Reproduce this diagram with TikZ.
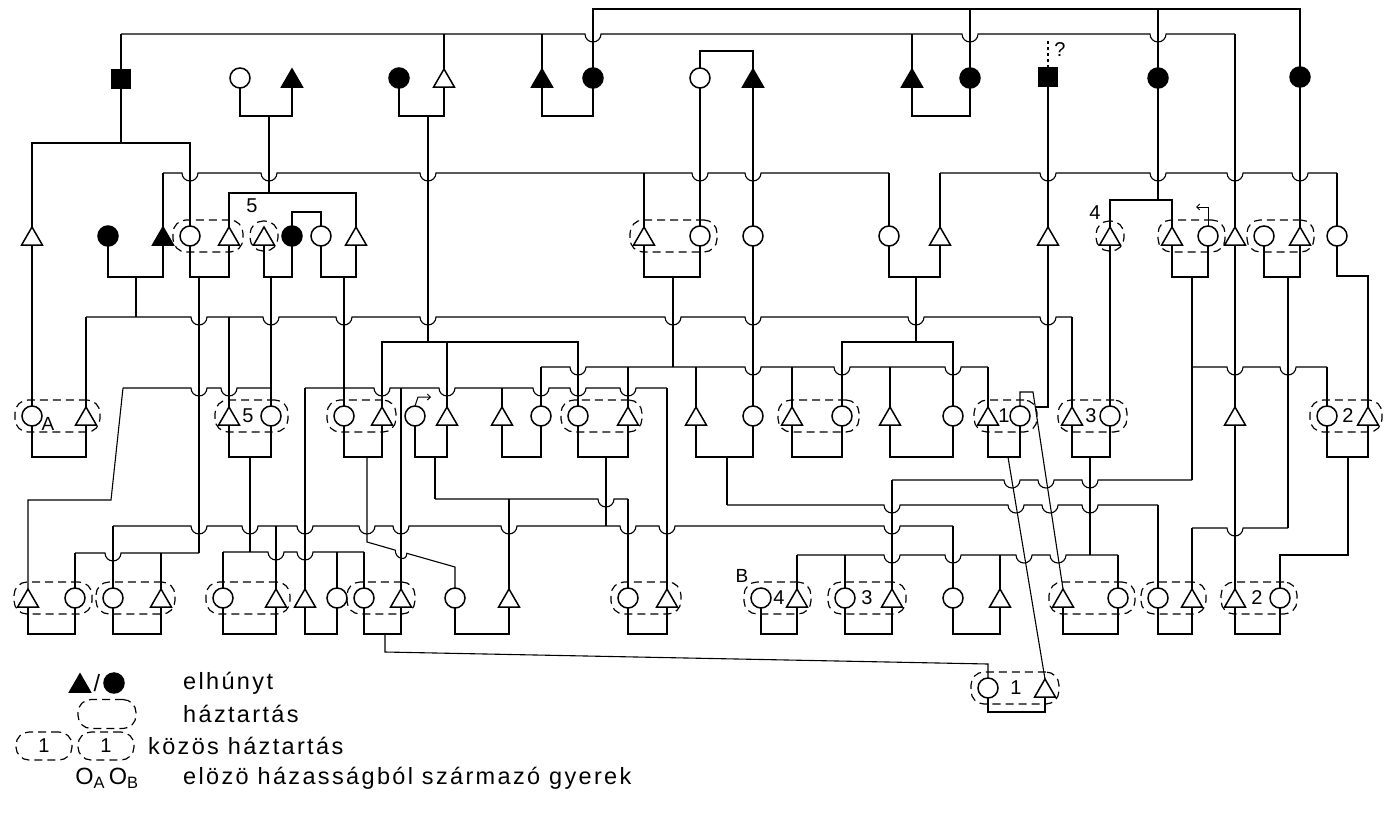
\documentclass[tikz,border=0pt]{standalone}
\usepackage{fontspec}
\setmainfont{Liberation Sans}[LetterSpace=10]
\usetikzlibrary{shapes.geometric,fit,arrows.meta}

\newcommand{\numfont}{\fontsize{20}{22}\selectfont}
\newcommand{\labfont}{\fontsize{19}{21}\selectfont}
\newcommand{\legfont}{\fontsize{23.5}{26}\selectfont}
\newcommand{\hopr}{8}
% horizontal line at y=#1 from x=#2 to x=#3, hopping under the verticals in #4
\newcommand{\busline}[4]{\draw[conn] (#2,#1) \foreach \h in {#4}{ -- ({\h-\hopr},#1) arc[start angle=180,end angle=0,radius=\hopr] } -- (#3,#1);}
\newcommand{\couple}[3]{\draw[conn] (#1.south) -- (#1.south |- 0,#3) -- (#2.south |- 0,#3) -- (#2.south);}
\newcommand{\sibs}[3]{\draw[conn] (#1.north) -- (#1.north |- 0,#3) -- (#2.north |- 0,#3) -- (#2.north);}
\newcommand{\upline}[2]{\draw[conn] (#1.north) -- (#1.north |- 0,#2);}

\begin{document}
\begin{tikzpicture}[x=1pt,y=-1pt,
  conn/.style={line width=1.1pt},
  sym/.style={draw, line width=1.5pt, inner sep=0pt, outer sep=0pt},
  ci/.style={sym, circle, minimum size=20pt},
  dci/.style={ci, fill=black},
  tr/.style={sym, regular polygon, regular polygon sides=3, minimum size=24pt, yshift=-3pt},
  dtr/.style={tr, fill=black},
  dsq/.style={sym, rectangle, fill=black, minimum size=19pt},
  hh/.style={draw, line width=1.2pt, dash pattern=on 8pt off 5pt, rounded corners=13pt, inner xsep=7pt, inner ysep=6pt},
  num/.style={font=\numfont, inner sep=0pt},
  lab/.style={font=\labfont, inner sep=0pt},
  txt/.style={font=\legfont, anchor=west, inner sep=0pt},
  arrowmark/.style={line width=1pt, -{Straight Barb[length=3pt,width=6pt]}},
]
\useasboundingbox (0,0) rectangle (1384,823);

% generation 1
\node[dsq] (g1x121) at (121,79) {};
\node[ci] (g1x240) at (240,78) {};
\node[dtr] (g1x292) at (292,78) {};
\node[dci] (g1x399) at (399,78) {};
\node[tr] (g1x444) at (444,78) {};
\node[dtr] (g1x542) at (542,78) {};
\node[dci] (g1x593) at (593,78) {};
\node[ci] (g1x700) at (700,78) {};
\node[dtr] (g1x753) at (753,78) {};
\node[dtr] (g1x912) at (912,78) {};
\node[dci] (g1x970) at (970,78) {};
\node[dsq] (g1x1048) at (1048,77) {};
\node[dci] (g1x1158) at (1158,78) {};
\node[dci] (g1x1300) at (1300,77) {};

% generation 2
\node[tr] (g2x32) at (32,236) {};
\node[dci] (g2x108) at (108,236) {};
\node[dtr] (g2x163) at (163,236) {};
\node[ci] (g2x190) at (190,236) {};
\node[tr] (g2x229) at (229,236) {};
\node[tr] (g2x264) at (264,236) {};
\node[dci] (g2x292) at (292,236) {};
\node[ci] (g2x321) at (321,236) {};
\node[tr] (g2x356) at (356,236) {};
\node[tr] (g2x644) at (644,236) {};
\node[ci] (g2x700) at (700,236) {};
\node[ci] (g2x753) at (753,236) {};
\node[ci] (g2x889) at (889,236) {};
\node[tr] (g2x940) at (940,236) {};
\node[tr] (g2x1048) at (1048,236) {};
\node[tr] (g2x1110) at (1110,236) {};
\node[tr] (g2x1172) at (1172,236) {};
\node[ci] (g2x1208) at (1208,236) {};
\node[tr] (g2x1235) at (1235,236) {};
\node[ci] (g2x1264) at (1264,236) {};
\node[tr] (g2x1300) at (1300,236) {};
\node[ci] (g2x1337) at (1337,236) {};

% generation 3
\node[ci] (g3x32) at (32,416) {};
\node[tr] (g3x86) at (86,416) {};
\node[tr] (g3x229) at (229,416) {};
\node[ci] (g3x271) at (271,416) {};
\node[ci] (g3x344) at (344,416) {};
\node[tr] (g3x382) at (382,416) {};
\node[ci] (g3x415) at (415,416) {};
\node[tr] (g3x447) at (447,416) {};
\node[tr] (g3x502) at (502,416) {};
\node[ci] (g3x541) at (541,416) {};
\node[ci] (g3x578) at (578,416) {};
\node[tr] (g3x628) at (628,416) {};
\node[tr] (g3x696) at (696,416) {};
\node[ci] (g3x753) at (753,416) {};
\node[tr] (g3x792) at (792,416) {};
\node[ci] (g3x842) at (842,416) {};
\node[tr] (g3x890) at (890,416) {};
\node[ci] (g3x953) at (953,416) {};
\node[tr] (g3x988) at (988,416) {};
\node[ci] (g3x1020) at (1020,416) {};
\node[tr] (g3x1072) at (1072,416) {};
\node[ci] (g3x1110) at (1110,416) {};
\node[tr] (g3x1235) at (1235,416) {};
\node[ci] (g3x1327) at (1327,416) {};
\node[tr] (g3x1368) at (1368,416) {};

% generation 4
\node[tr] (g4x28) at (28,598) {};
\node[ci] (g4x75) at (75,598) {};
\node[ci] (g4x113) at (113,598) {};
\node[tr] (g4x161) at (161,598) {};
\node[ci] (g4x223) at (223,598) {};
\node[tr] (g4x276) at (276,598) {};
\node[tr] (g4x305) at (305,598) {};
\node[ci] (g4x337) at (337,598) {};
\node[ci] (g4x364) at (364,598) {};
\node[tr] (g4x401) at (401,598) {};
\node[ci] (g4x455) at (455,598) {};
\node[tr] (g4x509) at (509,598) {};
\node[ci] (g4x628) at (628,598) {};
\node[tr] (g4x667) at (667,598) {};
\node[ci] (g4x761) at (761,598) {};
\node[tr] (g4x797) at (797,598) {};
\node[ci] (g4x845) at (845,598) {};
\node[tr] (g4x892) at (892,598) {};
\node[ci] (g4x953) at (953,598) {};
\node[tr] (g4x1000) at (1000,598) {};
\node[tr] (g4x1063) at (1063,598) {};
\node[ci] (g4x1118) at (1118,598) {};
\node[ci] (g4x1158) at (1158,598) {};
\node[tr] (g4x1192) at (1192,598) {};
\node[tr] (g4x1235) at (1235,598) {};
\node[ci] (g4x1280) at (1280,598) {};

% generation 5
\node[ci] (g5x988) at (988,688) {};
\node[tr] (g5x1045) at (1045,688) {};

% households
\node[hh, fit=(g2x190)(g2x229)] (hh2a) {};
\node[hh, fit=(g2x264)] (hh2b) {};
\node[hh, fit=(g2x644)(g2x700)] (hh2c) {};
\node[hh, fit=(g2x1110)] (hh2d) {};
\node[hh, fit=(g2x1172)(g2x1208)] (hh2e) {};
\node[hh, fit=(g2x1264)(g2x1300)] (hh2f) {};
\node[hh, fit=(g3x32)(g3x86)] (hh3a) {};
\node[hh, fit=(g3x229)(g3x271)] (hh3b) {};
\node[hh, fit=(g3x344)(g3x382)] (hh3c) {};
\node[hh, fit=(g3x578)(g3x628)] (hh3d) {};
\node[hh, fit=(g3x792)(g3x842)] (hh3e) {};
\node[hh, fit=(g3x988)(g3x1020)] (hh3f) {};
\node[hh, fit=(g3x1072)(g3x1110)] (hh3g) {};
\node[hh, fit=(g3x1327)(g3x1368)] (hh3h) {};
\node[hh, fit=(g4x28)(g4x75)] (hh4a) {};
\node[hh, fit=(g4x113)(g4x161)] (hh4b) {};
\node[hh, fit=(g4x223)(g4x276)] (hh4c) {};
\node[hh, fit=(g4x364)(g4x401)] (hh4d) {};
\node[hh, fit=(g4x628)(g4x667)] (hh4e) {};
\node[hh, fit=(g4x761)(g4x797)] (hh4f) {};
\node[hh, fit=(g4x845)(g4x892)] (hh4g) {};
\node[hh, fit=(g4x1063)(g4x1118)] (hh4h) {};
\node[hh, fit=(g4x1158)(g4x1192)] (hh4i) {};
\node[hh, fit=(g4x1235)(g4x1280)] (hh4j) {};
\node[hh, fit=(g5x988)(g5x1045)] (hh5a) {};

% labels
\node[num] (n2a) at (252,206) {5};
\node[num] (n2b) at (1095,213) {4};
\node[num] (qm) at (1060,50) {?};
\node[lab] (lA) at (48,424) {A};
\node[num] (n3a) at (248,416) {5};
\node[num] (n3b) at (1004,416) {1};
\node[num] (n3c) at (1091,416) {3};
\node[num] (n3d) at (1348,416) {2};
\node[lab] (lB) at (742,576) {B};
\node[num] (n4a) at (779,598) {4};
\node[num] (n4b) at (867,598) {3};
\node[num] (n4c) at (1257,598) {2};
\node[num] (n5a) at (1016,688) {1};
\draw[arrowmark] (g2x1208.north) -- ++(0,-19) -- ++(-12,0);
\draw[arrowmark] (g3x415.north) -- ++(3,-9) -- ++(13,0);

% generation 1 lines
\draw[conn] (g1x593.north) -- (593,9) -- (1300,9) -- (g1x1300.north);
\upline{g1x970}{9}
\upline{g1x1158}{9}
\busline{34}{121}{1235}{593,970,1158}
\upline{g1x121}{34}
\upline{g1x444}{34}
\upline{g1x542}{34}
\upline{g1x912}{34}
\draw[conn] (1235,34) -- (g2x1235.north);
\couple{g1x240}{g1x292}{116}
\couple{g1x399}{g1x444}{116}
\couple{g1x542}{g1x593}{116}
\couple{g1x912}{g1x970}{116}
\sibs{g1x700}{g1x753}{51}
\draw[conn, dashed] (g1x1048.north) -- (1048,40);
\draw[conn] (g1x121.south) -- (121,143);
\sibs{g2x32}{g2x190}{143}
\draw[conn] (269,116) -- (269,193);
\sibs{g2x229}{g2x356}{193}
\draw[conn] (428,116) -- (428,342);
\draw[conn] (g1x700.south) -- (g2x700.north);
\draw[conn] (g1x753.south) -- (g2x753.north);
\draw[conn] (g1x1048.south) -- (g2x1048.north);
\draw[conn] (g1x1158.south) -- (1158,200);
\sibs{g2x1110}{g2x1172}{200}
\draw[conn] (g1x1300.south) -- (g2x1300.north);

% generation 2 lines
\busline{173}{163}{889}{190,269,428,700,753}
\upline{g2x163}{173}
\upline{g2x644}{173}
\upline{g2x889}{173}
\busline{173}{940}{1337}{1048,1158,1235,1300}
\upline{g2x940}{173}
\upline{g2x1337}{173}
\sibs{g2x292}{g2x321}{212}
\couple{g2x108}{g2x163}{277}
\couple{g2x190}{g2x229}{277}
\couple{g2x264}{g2x292}{277}
\couple{g2x321}{g2x356}{277}
\couple{g2x644}{g2x700}{277}
\couple{g2x889}{g2x940}{277}
\couple{g2x1172}{g2x1208}{277}
\couple{g2x1264}{g2x1300}{277}
\draw[conn] (136,277) -- (136,317);
\draw[conn] (199,277) -- (199,553);
\draw[conn] (271,277) -- (g3x271.north);
\draw[conn] (344,277) -- (g3x344.north);
\draw[conn] (673,277) -- (673,367);
\draw[conn] (916,277) -- (916,342);
\draw[conn] (1192,277) -- (1192,480);
\draw[conn] (1288,277) -- (1288,528);
\draw[conn] (g2x32.south) -- (g3x32.north);
\draw[conn] (g2x753.south) -- (g3x753.north);
\draw[conn] (g2x1048.south) -- (1048,407) -- (1035.3,407);
\draw[conn] (g2x1110.south) -- (g3x1110.north);
\draw[conn] (g2x1235.south) -- (g3x1235.north);
\draw[conn] (g2x1337.south) -- (1337,276) -- (1368,276) -- (g3x1368.north);

% generation 3 lines
\busline{317}{86}{1072}{199,271,344,428,673,753,916,1048}
\upline{g3x86}{317}
\upline{g3x229}{317}
\upline{g3x1072}{317}
\sibs{g3x382}{g3x578}{342}
\upline{g3x447}{342}
\sibs{g3x842}{g3x953}{342}
\busline{367}{541}{988}{578,753,842,953}
\upline{g3x541}{367}
\upline{g3x628}{367}
\upline{g3x696}{367}
\upline{g3x792}{367}
\upline{g3x890}{367}
\upline{g3x988}{367}
\busline{367}{1192}{1327}{1235,1288}
\upline{g3x1327}{367}
\busline{388}{123}{271}{199,229}
\draw[conn] (123,388) -- (111,500) -- (28,500) -- (g4x28.north);
\busline{388}{305}{667}{382,447,541,578,628}
\draw[conn] (305,388) -- (g4x305.north);
\draw[conn] (401,388) -- (g4x401.north);
\upline{g3x502}{388}
\draw[conn] (667,388) -- (g4x667.north);
\couple{g3x32}{g3x86}{457}
\couple{g3x229}{g3x271}{457}
\couple{g3x344}{g3x382}{457}
\couple{g3x415}{g3x447}{457}
\couple{g3x502}{g3x541}{457}
\couple{g3x578}{g3x628}{457}
\couple{g3x696}{g3x753}{457}
\couple{g3x792}{g3x842}{457}
\couple{g3x890}{g3x953}{457}
\couple{g3x988}{g3x1020}{457}
\couple{g3x1072}{g3x1110}{457}
\couple{g3x1327}{g3x1368}{457}
\draw[conn] (g3x1235.south) -- (g4x1235.north);
\draw[conn] (250,457) -- (250,552);
\draw[conn] (367,457) -- (367,542) -- (395.2,550.1) .. controls (395.2,559) and (406.8,562) .. (406.8,553.3) -- (455,567) -- (g4x455.north);
\draw[conn] (435,457) -- (435,499);
\draw[conn] (606,457) -- (606,526);
\draw[conn] (727,457) -- (727,505);
\draw[conn] (1008,457) -- (g5x1045.north);
\draw[conn] (g3x1020.north) -- (1020,392) -- (1033,392) -- (g4x1063.north);
\draw[conn] (1090,457) -- (1090,555);
\draw[conn] (1348,457) -- (1348,555) -- (1280,555) -- (g4x1280.north);

% generation 4 lines
\busline{499}{435}{628}{606}
\upline{g4x509}{499}
\upline{g4x628}{499}
\busline{526}{113}{953}{199,250,305,367,401,509,628,667,892}
\upline{g4x113}{526}
\upline{g4x276}{526}
\upline{g4x953}{526}
\busline{553}{75}{199}{113}
\upline{g4x75}{553}
\upline{g4x161}{553}
\busline{552}{223}{364}{276,305}
\upline{g4x223}{552}
\upline{g4x337}{552}
\upline{g4x364}{552}
\busline{480}{892}{1192}{1012,1046,1090}
\upline{g4x892}{480}
\busline{505}{727}{1158}{892,1016,1050,1090}
\upline{g4x1158}{505}
\busline{528}{1192}{1288}{1235}
\upline{g4x1192}{528}
\busline{555}{797}{1118}{892,953,1024,1058}
\upline{g4x797}{555}
\upline{g4x845}{555}
\upline{g4x1000}{555}
\upline{g4x1118}{555}
\couple{g4x28}{g4x75}{634}
\couple{g4x113}{g4x161}{634}
\couple{g4x223}{g4x276}{634}
\couple{g4x305}{g4x337}{634}
\couple{g4x364}{g4x401}{634}
\couple{g4x455}{g4x509}{634}
\couple{g4x628}{g4x667}{634}
\couple{g4x761}{g4x797}{634}
\couple{g4x845}{g4x892}{634}
\couple{g4x953}{g4x1000}{634}
\couple{g4x1063}{g4x1118}{634}
\couple{g4x1158}{g4x1192}{634}
\couple{g4x1235}{g4x1280}{634}
\draw[conn] (385,634) -- (385,652) -- (988,664) -- (g5x988.north);
\couple{g5x988}{g5x1045}{712}

% legend
\node[dtr] (legt) at (80,683) {};
\node[font=\legfont, inner sep=0pt] (legsl) at (97,683) {/};
\node[dci] (legc) at (114,683) {};
\node[txt] (legt1) at (183,683) {elhúnyt};
\node[hh, minimum width=58pt, minimum height=29pt] (legh) at (107,714) {};
\node[txt] (legt2) at (183,714) {háztartás};
\node[hh, minimum width=56pt, minimum height=28pt, font=\numfont] (legk1) at (44,746) {1};
\node[hh, minimum width=56pt, minimum height=28pt, font=\numfont] (legk2) at (106,746) {1};
\node[txt] (legt3) at (148,746) {közös háztartás};
\node[font=\legfont, inner sep=0pt] (lego) at (107,778) {O\textsubscript{A}\,O\textsubscript{B}};
\node[txt] (legt4) at (183,778) {elözö házasságból származó gyerek};
\end{tikzpicture}
\end{document}
